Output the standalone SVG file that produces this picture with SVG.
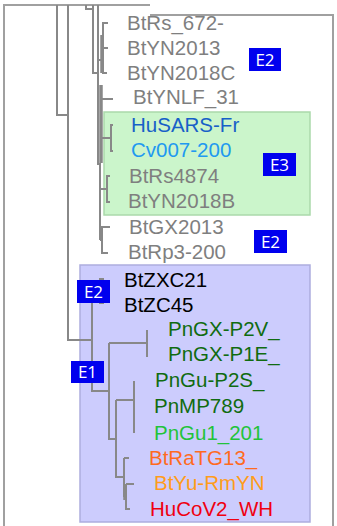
<svg xmlns="http://www.w3.org/2000/svg" width="337" height="526" viewBox="0 0 337 526">
<style>
.frame{fill:none;stroke:#a0a0a0;stroke-width:2}
.br{fill:none;stroke:#888;stroke-width:2}
.thick{fill:none;stroke:#888;stroke-width:3.5}
.lab{font-family:"Liberation Sans",Arial,sans-serif;font-size:20.5px}
.gray{fill:#7f7f7f}
.ebox{fill:#0000ee}
.et{font-family:"Open Sans","DejaVu Sans",sans-serif;font-size:17px;fill:#fff;text-anchor:middle}
</style>
<g id="frame">
<path class="frame" d="M4,526 V5 H150"/>
<path class="frame" d="M150,15 H333 V526"/>
</g>
<g id="box-E3"><rect x="104" y="112" width="206" height="103" fill="#cbf5cb" stroke="#abd9ab" stroke-width="1.5"/></g>
<g id="box-E1"><rect x="80" y="265" width="230" height="257" fill="#ccccfd" stroke="#adadde" stroke-width="1.5"/></g>
<g id="connectors">
<path class="br" d="M57,5 V115 H68"/>
<path class="br" d="M68,5 V340 H92"/>
<path class="br" d="M86,5 V9 H93"/>
<path class="br" d="M93,5 V73 H98"/>
<path class="br" d="M98,5 V165"/>
<path class="thick" d="M101,85 V163"/>
<path class="br" d="M98,60 H103"/>
<path class="br" d="M108,23 H103 V73 H107 M103,48 H108"/>
<path class="thick" d="M102,35 V73"/>
<path class="br" d="M100,99 H113"/>
<path class="br" d="M101,138 H111 M113,125 H111 V151 H113"/>
<path class="br" d="M100,163 V240"/>
<path class="br" d="M100,189 H107 M110,176 H107 V202 H110"/>
<path class="br" d="M100,240 H102 M110,227 H102 V253 H108"/>
<path class="br" d="M92,291 V391 H109"/>
<path class="br" d="M92,291 H100 M104,279 H100 V303 H104"/>
<path class="br" d="M109,343 V439 H116 M109,343 H147 M147,330 V357"/>
<path class="br" d="M116,400 V477 H124 M116,400 H134 M134,381 V433"/>
<path class="br" d="M124,458 V497 M124,458 H129 M126,484 H134 M126,484 V509 H130"/>
<path class="thick" d="M125,484 V500"/>
</g>
<g id="leaf-BtRs_672"><text class="lab gray" x="127" y="30">BtRs_672-</text></g>
<g id="leaf-BtYN2013"><text class="lab gray" x="127" y="55">BtYN2013</text></g>
<g id="leaf-BtYN2018C"><text class="lab gray" x="127" y="80">BtYN2018C</text></g>
<g id="leaf-BtYNLF_31"><text class="lab gray" x="133" y="104">BtYNLF_31</text></g>
<g id="leaf-HuSARS-Fr"><text class="lab" x="131" y="132" fill="#1760c8">HuSARS-Fr</text></g>
<g id="leaf-Cv007-200"><text class="lab" x="131" y="157" fill="#2199f0">Cv007-200</text></g>
<g id="leaf-BtRs4874"><text class="lab gray" x="129" y="183">BtRs4874</text></g>
<g id="leaf-BtYN2018B"><text class="lab gray" x="128" y="208">BtYN2018B</text></g>
<g id="leaf-BtGX2013"><text class="lab gray" x="129" y="234">BtGX2013</text></g>
<g id="leaf-BtRp3-200"><text class="lab gray" x="128" y="259">BtRp3-200</text></g>
<g id="leaf-BtZXC21"><text class="lab" x="124" y="287" fill="#000">BtZXC21</text></g>
<g id="leaf-BtZC45"><text class="lab" x="124" y="312" fill="#000">BtZC45</text></g>
<g id="leaf-PnGX-P2V"><text class="lab" x="168" y="336" fill="#106b10">PnGX-P2V_</text></g>
<g id="leaf-PnGX-P1E"><text class="lab" x="168" y="361" fill="#106b10">PnGX-P1E_</text></g>
<g id="leaf-PnGu-P2S"><text class="lab" x="155" y="387" fill="#106b10">PnGu-P2S_</text></g>
<g id="leaf-PnMP789"><text class="lab" x="154" y="413" fill="#106b10">PnMP789</text></g>
<g id="leaf-PnGu1_201"><text class="lab" x="154" y="440" fill="#22c33a">PnGu1_201</text></g>
<g id="leaf-BtRaTG13"><text class="lab" x="149" y="465" fill="#ff6a1f">BtRaTG13_</text></g>
<g id="leaf-BtYu-RmYN"><text class="lab" x="154" y="490" fill="#ff9c1a">BtYu-RmYN</text></g>
<g id="leaf-HuCoV2_WH"><text class="lab" x="150" y="516" fill="#f00010">HuCoV2_WH</text></g>
<g id="tag-E2a"><rect class="ebox" x="249" y="48" width="32" height="23"/><text class="et" x="265" y="65.5">E2</text></g>
<g id="tag-E3"><rect class="ebox" x="263" y="153" width="33" height="23"/><text class="et" x="279.5" y="170.5">E3</text></g>
<g id="tag-E2b"><rect class="ebox" x="254" y="230" width="33" height="23"/><text class="et" x="270.5" y="247.5">E2</text></g>
<g id="tag-E2c"><rect class="ebox" x="77" y="280" width="33" height="23"/><text class="et" x="93.5" y="297.5">E2</text></g>
<g id="tag-E1"><rect class="ebox" x="71" y="361" width="33" height="22"/><text class="et" x="87.5" y="378">E1</text></g>
</svg>
